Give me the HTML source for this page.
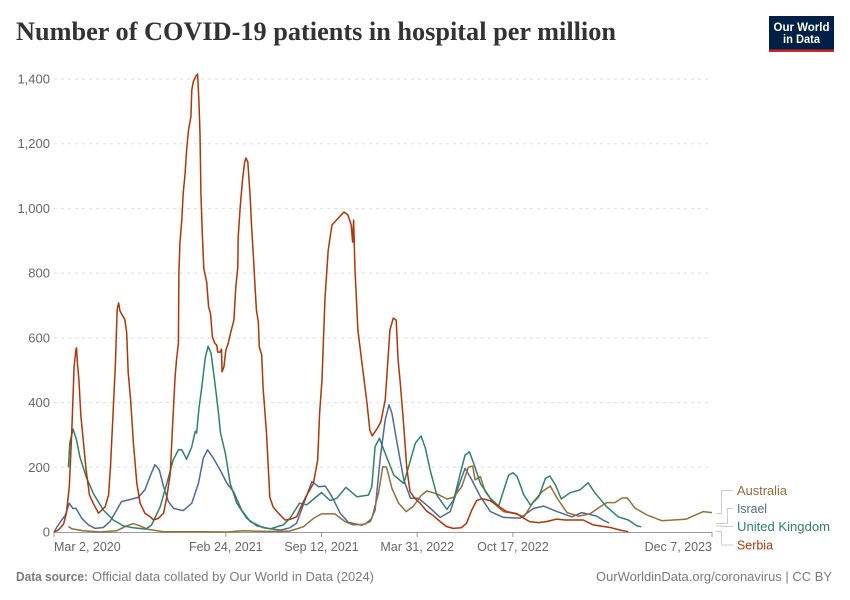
<!DOCTYPE html>
<html lang="en">
<head>
<meta charset="utf-8">
<title>Number of COVID-19 patients in hospital per million</title>
<style>
html,body{margin:0;padding:0;background:#fff;}
svg{display:block;font-family:"Liberation Sans",sans-serif;}
</style>
</head>
<body>
<svg id="chart" width="850" height="600" viewBox="0 0 850 600" xmlns="http://www.w3.org/2000/svg">
  <text x="16" y="40" font-family="'Liberation Serif',serif" font-weight="700" font-size="26" fill="#333" textLength="600" lengthAdjust="spacingAndGlyphs">Number of COVID-19 patients in hospital per million</text>
  <g>
    <rect x="769" y="16" width="65" height="36" fill="#002147"/>
    <rect x="769" y="49.5" width="65" height="2.5" fill="#ce261e"/>
    <text x="801.5" y="31" text-anchor="middle" font-size="11.5" font-weight="700" fill="#fff" textLength="56" lengthAdjust="spacingAndGlyphs">Our World</text>
    <text x="801.5" y="43" text-anchor="middle" font-size="11.5" font-weight="700" fill="#fff" textLength="37" lengthAdjust="spacingAndGlyphs">in Data</text>
  </g>
  <g id="grid"></g>
  <g id="y-axis"></g>
  <g id="x-axis"></g>
  <g id="series"></g>
  <g fill="none" stroke="#ccc" stroke-width="1">
    <path d="M716 513.5H721.5V490.5H733"/>
    <path d="M716 523.5H727.5V508.5H733"/>
    <path d="M716 526H721.5V526.5H733"/>
    <path d="M716 531.5H721.5V545H733"/>
  </g>
  <g font-size="12.5">
    <text x="737" y="495" fill="#996d39" textLength="50" lengthAdjust="spacingAndGlyphs">Australia</text>
    <text x="737" y="513" fill="#4c6a9c" textLength="30" lengthAdjust="spacingAndGlyphs">Israel</text>
    <text x="737" y="531" fill="#2c8465" textLength="93" lengthAdjust="spacingAndGlyphs">United Kingdom</text>
    <text x="737" y="549.5" fill="#b13507" textLength="36" lengthAdjust="spacingAndGlyphs">Serbia</text>
  </g>
  <text x="16" y="581" font-size="12.5" font-weight="700" fill="#7a7a7a" textLength="72" lengthAdjust="spacingAndGlyphs">Data source:</text>
  <text x="92" y="581" font-size="12.5" fill="#7a7a7a" textLength="282" lengthAdjust="spacingAndGlyphs">Official data collated by Our World in Data (2024)</text>
  <text x="832" y="581" text-anchor="end" font-size="12.5" fill="#7a7a7a" textLength="236" lengthAdjust="spacingAndGlyphs">OurWorldinData.org/coronavirus | CC BY</text>
</svg>
<script>
const yTicks = [0, 200, 400, 600, 800, 1000, 1200, 1400];
const yTickLabels = ["0", "200", "400", "600", "800", "1,000", "1,200", "1,400"];
const xTickDays = [0, 359, 559, 759, 959, 1375];
const xTickLabels = ["Mar 2, 2020", "Feb 24, 2021", "Sep 12, 2021", "Mar 31, 2022", "Oct 17, 2022", "Dec 7, 2023"];

const israelDays = [0,7,16,24,32,39,46,58,72,86,103,117,131,141,155,176,190,202,211,220,229,239,250,270,288,302,312,321,333,347,361,375,392,410,438,473,493,507,521,539,553,567,581,598,615,643,661,671,682,692,700,706,717,731,745,762,783,807,828,845,859,873,891,912,939,974,1002,1023,1051,1082,1103,1134,1147,1160];
const israelValues = [0,17,37,53,89,73,73,42,22,11,14,32,68,94,99,107,130,177,208,192,140,94,73,66,89,151,228,254,228,192,151,125,68,32,13,6,13,27,84,156,140,142,109,58,30,21,32,68,233,346,393,367,274,161,104,104,78,45,63,140,197,161,109,63,45,43,73,80,63,47,60,49,37,28];

const australiaDays = [30,37,61,96,131,152,166,180,197,229,319,361,396,438,479,493,521,542,559,587,608,625,650,664,678,687,695,706,720,736,751,768,779,800,821,835,852,866,875,880,891,901,919,939,960,982,1002,1020,1037,1051,1072,1096,1120,1137,1155,1172,1187,1198,1214,1239,1270,1322,1335,1357,1375];
const australiaValues = [17,10,4,0,4,19,26,19,8,1,1,0,4,2,2,3,16,42,56,56,32,22,24,42,120,202,200,135,89,63,80,114,127,118,102,107,140,200,204,161,171,125,89,63,58,47,94,125,142,105,60,49,56,74,91,91,105,105,74,53,35,40,49,63,60];

const ukDays = [30,33,40,47,54,67,82,103,124,145,166,192,204,222,236,249,260,267,277,288,295,298,303,309,316,322,328,335,343,348,358,368,382,403,424,452,479,493,513,528,559,577,591,610,633,657,664,671,680,692,710,731,741,755,767,776,786,800,821,835,849,859,868,877,891,912,929,940,950,959,968,982,996,1013,1027,1036,1048,1060,1078,1099,1116,1131,1155,1179,1200,1218,1227];
const ukValues = [200,275,318,285,233,171,120,68,37,19,13,9,22,78,151,223,254,254,225,264,311,306,383,450,538,574,553,476,378,306,244,151,89,42,19,10,22,42,89,84,122,97,104,138,109,114,140,264,290,243,176,150,202,274,297,259,192,114,70,99,181,238,248,212,150,104,80,130,176,183,171,114,83,109,166,173,145,102,121,130,152,120,78,47,37,19,16];

const serbiaDays = [0,9,20,26,32,37,42,46,47,49,52,56,61,67,74,82,93,100,107,114,118,123,128,132,135,138,144,148,152,155,160,166,173,180,190,201,208,218,229,236,243,247,253,256,260,261,263,267,270,274,277,281,286,288,291,297,300,303,305,307,310,313,319,323,327,331,336,340,342,347,350,351,355,359,364,368,376,380,384,385,389,394,398,401,405,410,413,417,419,423,427,429,434,437,444,451,458,469,483,493,507,518,528,542,551,555,560,566,573,581,594,606,614,621,624,626,629,635,644,654,660,665,676,683,692,695,702,709,715,719,723,730,737,744,754,765,779,793,807,820,834,851,862,873,883,894,911,929,946,967,981,994,1012,1029,1050,1068,1078,1106,1127,1165,1183,1200];
const serbiaValues = [0,6,25,58,140,305,512,564,569,523,471,362,285,192,115,89,58,68,78,115,202,357,512,688,708,683,667,657,615,492,409,275,151,89,58,47,37,42,58,110,182,306,480,532,583,800,892,964,1047,1108,1180,1242,1283,1366,1392,1410,1415,1325,1232,1047,923,815,772,695,676,603,583,578,556,556,565,495,510,562,583,609,655,757,819,912,1004,1088,1140,1156,1144,1035,943,841,788,686,649,572,547,445,306,108,77,58,37,39,47,84,114,150,223,367,470,717,871,949,970,989,980,949,896,964,810,624,516,398,315,297,321,340,408,470,624,661,655,531,470,346,201,125,104,89,64,50,32,17,11,13,27,68,97,103,97,79,63,57,43,32,29,32,40,37,37,37,22,13,6,1];

const NS = "http://www.w3.org/2000/svg";
const plotLeft = 54, plotRight = 712, plotBottom = 532, plotTop = 79;
const maxDay = 1375, maxValue = 1400;
function xScale(day) { return plotLeft + (day / maxDay) * (plotRight - plotLeft); }
function yScale(value) { return plotBottom - (value / maxValue) * (plotBottom - plotTop); }
function make(tag, attrs, parent) {
  const el = document.createElementNS(NS, tag);
  for (const k in attrs) el.setAttribute(k, attrs[k]);
  parent.appendChild(el);
  return el;
}

const grid = document.getElementById("grid");
const yAxis = document.getElementById("y-axis");
const xAxis = document.getElementById("x-axis");
const series = document.getElementById("series");

yTicks.forEach(function (tick, i) {
  const y = yScale(tick);
  if (tick !== 0) {
    const line = make("line", {x1: plotLeft, x2: plotRight, y1: y, y2: y, stroke: "#ddd", "stroke-dasharray": "3,4"}, grid);
    
    
  }
  const label = make("text", {x: 50, y: y + 4.5, "text-anchor": "end", "font-size": 13, fill: "#666"}, yAxis);
  label.textContent = yTickLabels[i];
  
  
});

const axisLine = make("line", {x1: plotLeft, x2: plotRight, y1: plotBottom + 0.5, y2: plotBottom + 0.5, stroke: "#999"}, xAxis);



xTickDays.forEach(function (day, i) {
  const x = xScale(day);
  const tick = make("line", {x1: x, x2: x, y1: plotBottom, y2: plotBottom + 5, stroke: "#999"}, xAxis);
  
  
  const anchor = i === 0 ? "start" : (i === xTickDays.length - 1 ? "end" : "middle");
  const label = make("text", {x: x, y: 551, "text-anchor": anchor, "font-size": 12.5, fill: "#666"}, xAxis);
  label.textContent = xTickLabels[i];
  
  
});

function drawLine(days, values, color) {
  const pts = days.map(function (d, i) { return xScale(d).toFixed(1) + "," + yScale(values[i]).toFixed(1); }).join(" ");
  return make("polyline", {points: pts, fill: "none", stroke: color, "stroke-width": 1.5, "stroke-linejoin": "round"}, series);
}

const israelLine = drawLine(israelDays, israelValues, "#4c6a9c");


const australiaLine = drawLine(australiaDays, australiaValues, "#996d39");


const ukLine = drawLine(ukDays, ukValues, "#2c8465");


const serbiaLine = drawLine(serbiaDays, serbiaValues, "#b13507");


</script>
</body>
</html>
